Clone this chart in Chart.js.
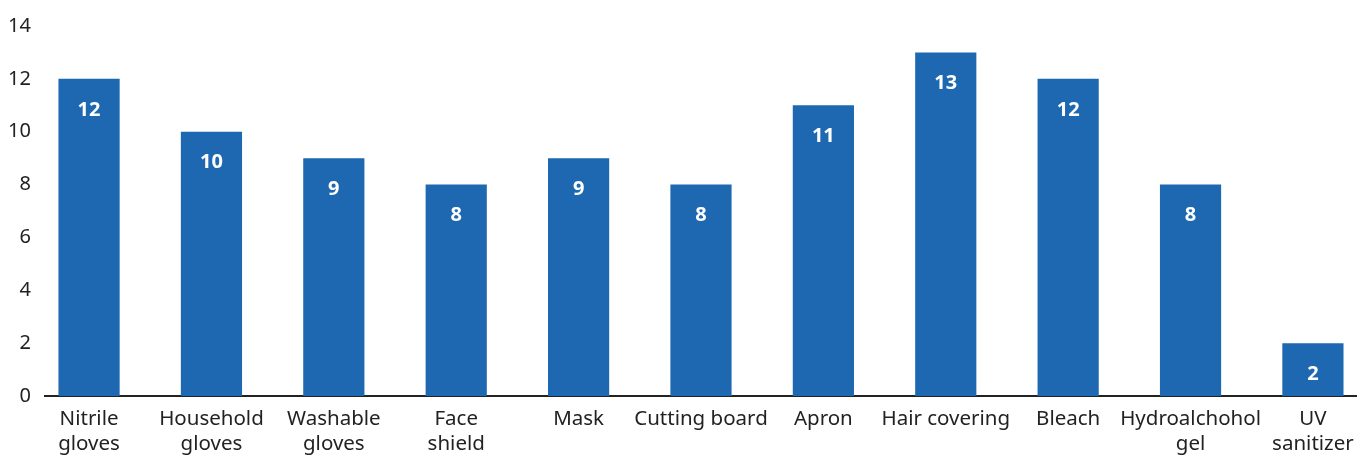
<!DOCTYPE html>
<html lang="en">
<head>
<meta charset="UTF-8">
<title>Protective items</title>
<script src="https://cdn.jsdelivr.net/npm/chart.js"></script>
<style>
  body { margin: 0; background: #fff; }
  #wrap { width: 1365px; height: 455px; position: relative; }
</style>
</head>
<body>
<div id="wrap"><canvas id="chart"></canvas></div>
<script>
const categories = ['Nitrile gloves', 'Household gloves', 'Washable gloves', 'Face shield', 'Mask',
  'Cutting board', 'Apron', 'Hair covering', 'Bleach', 'Hydroalchohol gel', 'UV sanitizer'];
const tickLabels = [['Nitrile', 'gloves'], ['Household', 'gloves'], ['Washable', 'gloves'], ['Face', 'shield'],
  'Mask', 'Cutting board', 'Apron', 'Hair covering', 'Bleach', ['Hydroalchohol', 'gel'], ['UV', 'sanitizer']];
const counts = [12, 10, 9, 8, 9, 8, 11, 13, 12, 8, 2];
const yTicks = [0, 2, 4, 6, 8, 10, 12, 14];

const barColor = '#1d68b1';
const font = 'Noto Sans';

// white value labels inside the top of each bar
const valueLabels = {
  id: 'valueLabels',
  afterDatasetsDraw(chart) {
    const ctx = chart.ctx;
    const meta = chart.getDatasetMeta(0);
    ctx.save();
    ctx.fillStyle = '#fff';
    ctx.font = 'bold 20px "' + font + '"';
    ctx.textAlign = 'center';
    ctx.textBaseline = 'middle';
    meta.data.forEach((bar, i) => {
      ctx.fillText(String(counts[i]), bar.x, bar.y + 31);
    });
    ctx.restore();
  }
};

new Chart(document.getElementById('chart'), {
  type: 'bar',
  data: {
    datasets: [{
      label: 'Items',
      data: counts.map((v, i) => ({ x: i, y: v })),
      backgroundColor: barColor,
      barPercentage: 1,
      categoryPercentage: 0.5
    }]
  },
  options: {
    responsive: true,
    maintainAspectRatio: false,
    animation: false,
    layout: { padding: { top: 22, right: 8, left: 0, bottom: 0 } },
    plugins: { legend: { display: false }, tooltip: { enabled: false } },
    scales: {
      x: {
        type: 'linear',
        offset: false,
        min: -0.36,
        max: 10.36,
        grid: { display: false, drawTicks: false },
        border: { color: '#222', width: 2 },
        afterFit: s => { s.height = 59; },
        ticks: {
          stepSize: 1,
          includeBounds: false,
          autoSkip: false,
          maxRotation: 0,
          padding: 11,
          color: '#222',
          font: { family: font, size: 20.5, lineHeight: 1.2 },
          callback: v => Number.isInteger(v) ? tickLabels[v] : ''
        }
      },
      y: {
        min: 0,
        max: 14,
        grid: { display: false, drawTicks: false },
        border: { display: false },
        afterFit: s => { s.width = 45; },
        afterBuildTicks: s => { s.ticks = yTicks.map(v => ({ value: v })); },
        ticks: {
          padding: 14,
          color: '#222',
          font: { family: font, size: 20 }
        }
      }
    }
  },
  plugins: [valueLabels]
});
</script>
</body>
</html>
